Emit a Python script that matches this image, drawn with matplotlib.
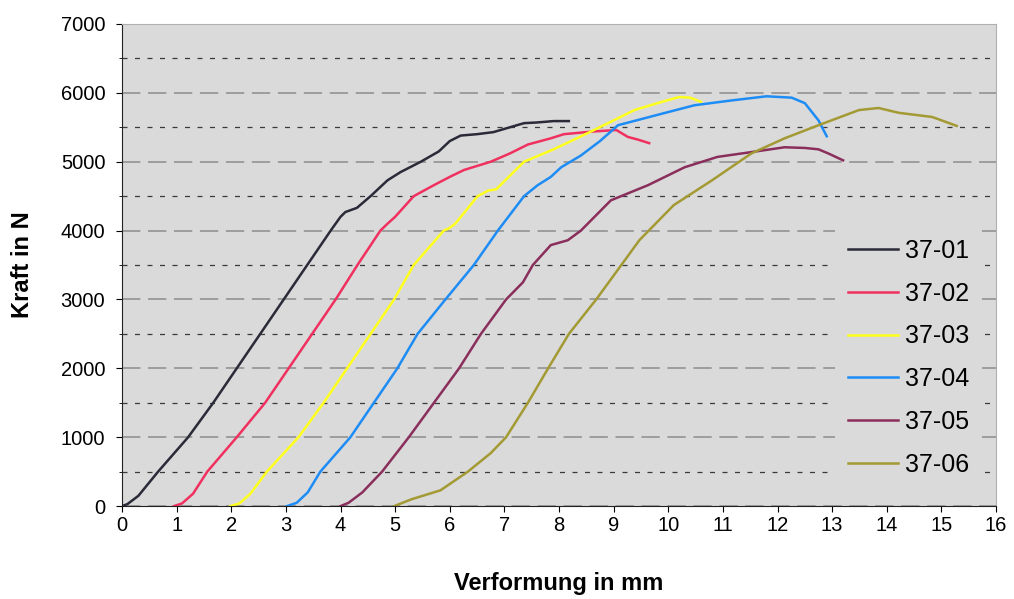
import matplotlib.pyplot as plt
from matplotlib.ticker import MultipleLocator

plt.rcParams['font.family'] = ['Liberation Sans', 'DejaVu Sans']

# Messkurven (Verformung in mm, Kraft in N)
x_01 = [0, 0.1, 0.3, 0.66, 1.21, 1.67, 2.1, 2.53, 2.96, 3.39, 3.82, 4.0, 4.09, 4.3, 4.55,
        4.86, 5.1, 5.47, 5.8, 6.0, 6.2, 6.5, 6.8, 7.1, 7.36, 7.6, 7.9, 8.18]
y_01 = [0, 30, 150, 500, 1000, 1500, 2000, 2500, 3000, 3500, 4000, 4200, 4270, 4330, 4500,
        4730, 4850, 5000, 5150, 5300, 5380, 5400, 5430, 5500, 5560, 5570, 5590, 5590]

x_02 = [0.95, 1.1, 1.3, 1.56, 2.1, 2.62, 3.05, 3.48, 3.91, 4.31, 4.73, 4.86, 5.0, 5.34,
        5.71, 6.0, 6.26, 6.75, 7.1, 7.43, 7.85, 8.09, 8.64, 9.05, 9.26, 9.45, 9.65]
y_02 = [0, 40, 180, 500, 1000, 1500, 2000, 2500, 3000, 3500, 4000, 4100, 4200, 4500,
        4660, 4780, 4880, 5000, 5120, 5250, 5340, 5400, 5440, 5460, 5360, 5320, 5270]

x_03 = [1.98, 2.15, 2.35, 2.65, 3.23, 3.69, 4.12, 4.55, 4.98, 5.34, 5.89, 5.98, 6.1, 6.51,
        6.7, 6.85, 7.36, 7.9, 8.3, 8.64, 9.0, 9.38, 9.8, 10.2, 10.4, 10.6]
y_03 = [0, 40, 180, 500, 1000, 1500, 2000, 2500, 3000, 3500, 4000, 4030, 4100, 4500,
        4580, 4600, 5000, 5180, 5330, 5460, 5600, 5750, 5850, 5940, 5930, 5870]

x_04 = [3.02, 3.2, 3.4, 3.63, 4.18, 4.61, 5.04, 5.41, 5.92, 6.44, 6.88, 7.36, 7.61, 7.85,
        8.04, 8.4, 8.75, 9.08, 9.8, 10.48, 11.16, 11.8, 12.26, 12.5, 12.75, 12.9]
y_04 = [0, 50, 200, 500, 1000, 1500, 2000, 2500, 3000, 3500, 4000, 4500, 4660, 4780,
        4920, 5090, 5300, 5530, 5680, 5820, 5890, 5950, 5930, 5850, 5600, 5370]

x_05 = [4.0, 4.15, 4.4, 4.76, 5.25, 5.71, 6.17, 6.57, 7.03, 7.34, 7.52, 7.85, 8.16, 8.4,
        8.95, 9.63, 10.3, 10.9, 11.52, 12.13, 12.5, 12.75, 12.93, 13.2]
y_05 = [0, 50, 200, 500, 1000, 1500, 2000, 2500, 3000, 3250, 3500, 3790, 3860, 4000,
        4440, 4660, 4920, 5070, 5140, 5210, 5200, 5180, 5120, 5020]

x_06 = [4.98, 5.3, 5.83, 6.33, 6.75, 7.03, 7.43, 7.8, 8.18, 8.68, 9.14, 9.47, 10.1, 10.8,
        11.52, 12.13, 12.75, 13.49, 13.85, 14.22, 14.83, 15.28]
y_06 = [0, 100, 230, 500, 770, 1000, 1500, 2000, 2500, 3000, 3500, 3860, 4370, 4730,
        5120, 5340, 5530, 5750, 5780, 5710, 5650, 5520]

labels = ['37-01', '37-02', '37-03', '37-04', '37-05', '37-06']
colors = ['#2a2a38', '#f0305f', '#ffff1e', '#1e8cf5', '#8a2e5c', '#a39a34']
series = [(x_01, y_01), (x_02, y_02), (x_03, y_03), (x_04, y_04), (x_05, y_05), (x_06, y_06)]

bg = '#dadada'
fig = plt.figure(figsize=(10.14, 5.99), dpi=100)
ax = fig.add_axes([0.1203, 0.155, 0.862, 0.805])
ax.set_facecolor(bg)

for (xs, ys), lab, col in zip(series, labels, colors):
    ax.plot(xs, ys, color=col, lw=1.8, label=lab)

ax.set_xlim(0, 16)
ax.set_ylim(0, 7000)
ax.xaxis.set_major_locator(MultipleLocator(1))
ax.yaxis.set_major_locator(MultipleLocator(1000))
ax.yaxis.set_minor_locator(MultipleLocator(500))

ax.grid(which='major', axis='y', color='#8c8c8c', linestyle=(0, (12, 5)), lw=1.1)
ax.grid(which='minor', axis='y', color='#3a3a3a', linestyle=(0, (4, 6)), lw=0.9)
ax.set_axisbelow(True)

for s in ['top', 'right']:
    ax.spines[s].set_color('#b0b0b0')
for s in ['left', 'bottom']:
    ax.spines[s].set_color('#222222')

ax.tick_params(axis='x', which='major', labelsize=14.5, length=4, pad=3)
ax.tick_params(axis='y', which='major', labelsize=14.5, length=4, pad=8)
ax.tick_params(axis='y', which='minor', length=2.5)

ax.set_xlabel('Verformung in mm', fontsize=17, fontweight='bold', labelpad=27)
ax.set_ylabel('Kraft in N', fontsize=17, fontweight='bold', labelpad=19)

leg = ax.legend(loc='center left', bbox_to_anchor=(0.802, 0.308), frameon=True,
                fontsize=18, handlelength=2.0, labelspacing=0.75, handletextpad=0.3,
                borderpad=0.5, fancybox=False)
leg.get_frame().set_facecolor(bg)
leg.get_frame().set_edgecolor('none')
leg.get_frame().set_alpha(1)

fig.savefig('out.png', dpi=100)
